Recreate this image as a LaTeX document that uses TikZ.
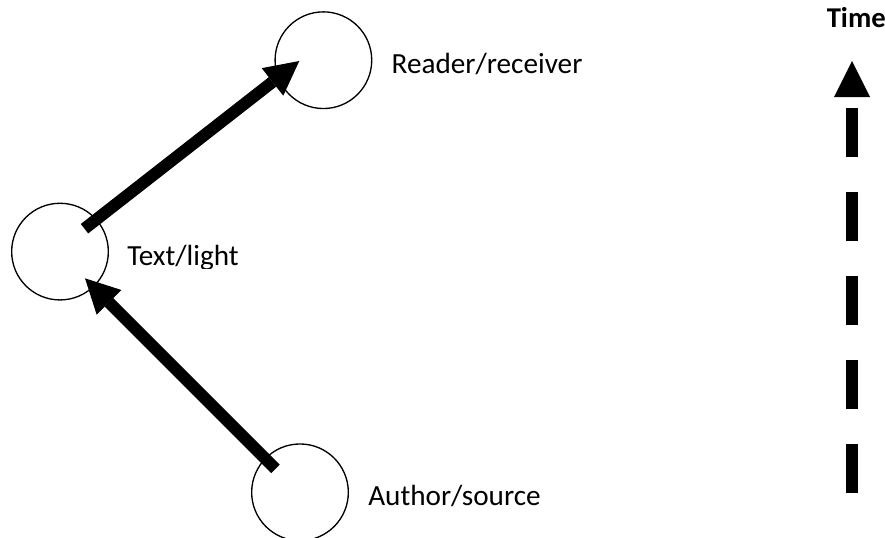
\documentclass[tikz,border=0pt]{standalone}
\usepackage{fontspec}
\setmainfont{Carlito}
\usetikzlibrary{arrows.meta,calc}
\begin{document}
\begin{tikzpicture}[x=0.75pt,y=-0.75pt,
  party/.style={circle,draw,line width=1pt,minimum size=72.5pt,inner sep=0pt},
  lbl/.style={anchor=base west,inner sep=0pt,font=\fontsize{21.9}{26}\selectfont},
  flow/.style={line width=9pt,-{Triangle[length=25.5pt,width=26.25pt,line width=0pt]}},
  timeline/.style={line width=9pt,dash pattern=on 36.75pt off 26.25pt,
    -{Triangle[length=27pt,width=27pt,line width=0pt]}}]
\useasboundingbox (0,0) rectangle (885,537);

% the three parties of the communication
\node[party] (reader) at (323.4,60.2) {};
\node[party] (textc)  at (60,251.6) {};
\node[party] (author) at (300,492.3) {};

% labels
\node[lbl] (readerlbl) at ($(reader.center)+(68,13)$) {Reader/receiver};
\begin{scope}
  \clip (0,0) rectangle (885,268);
  \node[lbl] (textlbl) at ($(textc.center)+(67,13.4)$) {Text/light};
\end{scope}
\node[lbl] (authorlbl) at ($(author.center)+(68,13)$) {Author/source};
\node[lbl,font=\fontsize{21.5}{26}\selectfont\bfseries] (timelbl) at (826.5,27) {Time};

% flow arrows
\draw[flow] ($(author.center)+(-24.5,-23.5)$) -- ($(textc.center)+(25,26.7)$);
\draw[flow] ($(textc.center)+(24.5,-22.9)$) -- ($(reader.center)+(-24.1,0.8)$);

% time axis
\coordinate (tbot) at (852,493);
\coordinate (ttop) at (852,61);
\draw[timeline] (tbot) -- (ttop);
\end{tikzpicture}
\end{document}
